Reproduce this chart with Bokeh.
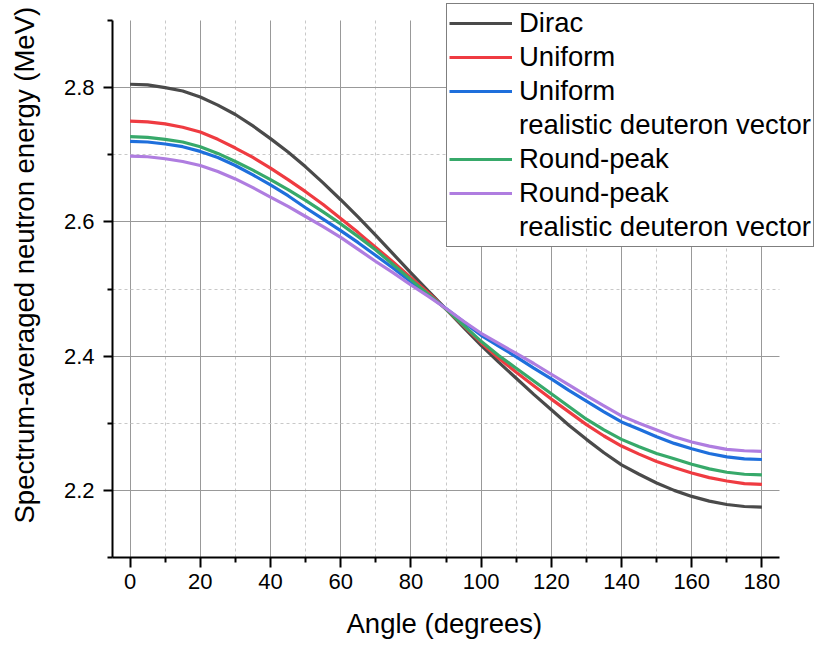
from bokeh.plotting import figure
from bokeh.models import (FixedTicker, Legend, LegendItem, Title, Range1d, LinearAxis,
                          CustomJSTickFormatter)
from bokeh.embed import file_html
from bokeh.resources import INLINE

# ---- data ----
angles = [0, 5, 10, 15, 20, 25, 30, 35, 40, 45, 50, 55, 60, 65, 70, 75, 80, 85, 90,
          95, 100, 105, 110, 115, 120, 125, 130, 135, 140, 145, 150, 155, 160, 165, 170, 175, 180]
dirac = [2.805, 2.804, 2.800, 2.795, 2.786, 2.774, 2.760, 2.743, 2.724, 2.704,
         2.682, 2.658, 2.633, 2.607, 2.580, 2.552, 2.524, 2.497, 2.470, 2.443,
         2.416, 2.391, 2.367, 2.343, 2.320, 2.297, 2.276, 2.256, 2.238, 2.224,
         2.211, 2.200, 2.191, 2.184, 2.179, 2.176, 2.175]
uniform = [2.750, 2.749, 2.746, 2.741, 2.734, 2.723, 2.710, 2.696, 2.680, 2.663,
           2.645, 2.626, 2.605, 2.584, 2.562, 2.540, 2.517, 2.494, 2.470, 2.445,
           2.420, 2.397, 2.376, 2.356, 2.336, 2.317, 2.298, 2.281, 2.266, 2.254,
           2.243, 2.234, 2.226, 2.219, 2.214, 2.210, 2.209]
uniform_realistic = [2.720, 2.719, 2.716, 2.712, 2.705, 2.696, 2.684, 2.670, 2.655, 2.639,
                     2.621, 2.604, 2.587, 2.569, 2.550, 2.531, 2.511, 2.491, 2.471, 2.451,
                     2.431, 2.415, 2.399, 2.382, 2.366, 2.349, 2.333, 2.317, 2.302, 2.291,
                     2.280, 2.270, 2.262, 2.255, 2.250, 2.247, 2.246]
round_peak = [2.727, 2.726, 2.723, 2.719, 2.712, 2.702, 2.690, 2.677, 2.663, 2.648,
              2.632, 2.615, 2.597, 2.578, 2.558, 2.536, 2.514, 2.492, 2.470, 2.446,
              2.422, 2.401, 2.382, 2.363, 2.344, 2.325, 2.306, 2.290, 2.276, 2.265,
              2.255, 2.247, 2.239, 2.232, 2.227, 2.224, 2.223]
round_peak_realistic = [2.698, 2.697, 2.694, 2.690, 2.684, 2.675, 2.664, 2.651, 2.637, 2.623,
                        2.608, 2.593, 2.577, 2.559, 2.541, 2.524, 2.506, 2.489, 2.471, 2.452,
                        2.434, 2.419, 2.404, 2.389, 2.373, 2.357, 2.341, 2.326, 2.311, 2.300,
                        2.290, 2.280, 2.272, 2.266, 2.261, 2.259, 2.258]

x_major_ticks = [0, 20, 40, 60, 80, 100, 120, 140, 160, 180]
x_minor_ticks = [10, 30, 50, 70, 90, 110, 130, 150, 170]
y_major_ticks = [2.2, 2.4, 2.6, 2.8]
y_minor_ticks = [2.1, 2.3, 2.5, 2.7, 2.9]
y_minor_grid = [2.3, 2.5, 2.7]
x_axis_bounds = (-5, 185)
y_axis_bounds = (2.1, 2.9)

series_labels = ["Dirac", "Uniform", "Uniform", "Round-peak", "Round-peak"]
sub_label = "realistic deuteron vector"
x_label = "Angle (degrees)"
y_label = "Spectrum-averaged neutron energy (MeV)"

colors = ["#4a4a4a", "#ef3b41", "#1e6fdc", "#37a96a", "#af7de0"]

FONT = "Liberation Sans"

p = figure(width=814, height=646, output_backend="svg", toolbar_location=None,
           x_range=Range1d(-5, 194.97), y_range=Range1d(2.1, 2.9298),
           min_border_left=112, min_border_right=0, min_border_top=0, min_border_bottom=89)
p.outline_line_color = None
p.background_fill_color = "white"
p.border_fill_color = "white"

# axes
p.xaxis.ticker = FixedTicker(ticks=x_major_ticks, minor_ticks=x_minor_ticks)
p.yaxis.ticker = FixedTicker(ticks=y_major_ticks, minor_ticks=y_minor_ticks)
p.xaxis.bounds = x_axis_bounds
p.yaxis.bounds = y_axis_bounds
for ax in (p.xaxis, p.yaxis):
    ax.axis_line_width = 2
    ax.axis_line_color = "black"
    ax.major_tick_line_width = 2
    ax.minor_tick_line_width = 2
    ax.major_tick_line_color = "black"
    ax.minor_tick_line_color = "black"
    ax.major_tick_in = 0
    ax.minor_tick_in = 0
    ax.minor_tick_out = 5
    ax.major_label_text_font = FONT
    ax.major_label_text_font_size = "22px"
    ax.major_label_text_color = "black"
p.xaxis.major_tick_out = 10
p.yaxis.major_tick_out = 9
p.xaxis.major_label_standoff = 6
p.yaxis.major_label_standoff = 9


def spacer_axis(size, tick):
    # an invisible axis (transparent tick, empty label) that only reserves space
    return LinearAxis(ticker=FixedTicker(ticks=[tick], minor_ticks=[]),
                      formatter=CustomJSTickFormatter(code="return ''"),
                      axis_line_alpha=0, major_tick_line_alpha=0,
                      minor_tick_line_alpha=0, major_tick_in=0, minor_tick_in=0,
                      major_tick_out=size, minor_tick_out=0, major_label_standoff=0,
                      major_label_text_font_size="1px")


# grids
p.xgrid.ticker = FixedTicker(ticks=x_major_ticks, minor_ticks=x_minor_ticks)
p.ygrid.ticker = FixedTicker(ticks=y_major_ticks, minor_ticks=y_minor_grid)
p.xgrid.cross_bounds = y_axis_bounds
p.ygrid.cross_bounds = x_axis_bounds
for g in (p.xgrid, p.ygrid):
    g.grid_line_color = "#999999"
    g.grid_line_width = 1
    g.minor_grid_line_color = "#c8c8c8"
    g.minor_grid_line_width = 1
    g.minor_grid_line_dash = "3 3"

# data lines
all_series = [dirac, uniform, uniform_realistic, round_peak, round_peak_realistic]
renderers = []
for ys, c in zip(all_series, colors):
    renderers.append(p.line(angles, ys, line_color=c, line_width=3.2))

blank1 = p.line(x=[], y=[], line_alpha=0)
blank2 = p.line(x=[], y=[], line_alpha=0)

items = [
    LegendItem(label=series_labels[0], renderers=[renderers[0]]),
    LegendItem(label=series_labels[1], renderers=[renderers[1]]),
    LegendItem(label=series_labels[2], renderers=[renderers[2]]),
    LegendItem(label=sub_label, renderers=[blank1]),
    LegendItem(label=series_labels[3], renderers=[renderers[3]]),
    LegendItem(label=series_labels[4], renderers=[renderers[4]]),
    LegendItem(label=sub_label, renderers=[blank2]),
]
legend = Legend(items=items, location=(334, 310), padding=2, margin=0, spacing=0,
                label_height=34, glyph_height=34, glyph_width=63, label_standoff=7,
                border_line_color="black", border_line_width=1,
                background_fill_color="white", background_fill_alpha=1,
                label_text_font=FONT, label_text_font_size="27.5px",
                label_text_color="black")
p.add_layout(legend)

# x label (below, after a small spacer)
p.add_layout(spacer_axis(14, 90), "below")
xtitle = Title(text=x_label, align="left", offset=234, text_font=FONT,
               text_font_size="27.5px", text_font_style="normal", text_color="black",
               standoff=0)
p.add_layout(xtitle, "below")

# y label (left, after a spacer)
p.add_layout(spacer_axis(16, 2.5), "left")
ytitle = Title(text=y_label, align="left", offset=34, text_font=FONT,
               text_font_size="27.5px", text_font_style="normal", text_color="black",
               standoff=10)
p.add_layout(ytitle, "left")

open("out.html", "w").write(file_html(p, INLINE))
